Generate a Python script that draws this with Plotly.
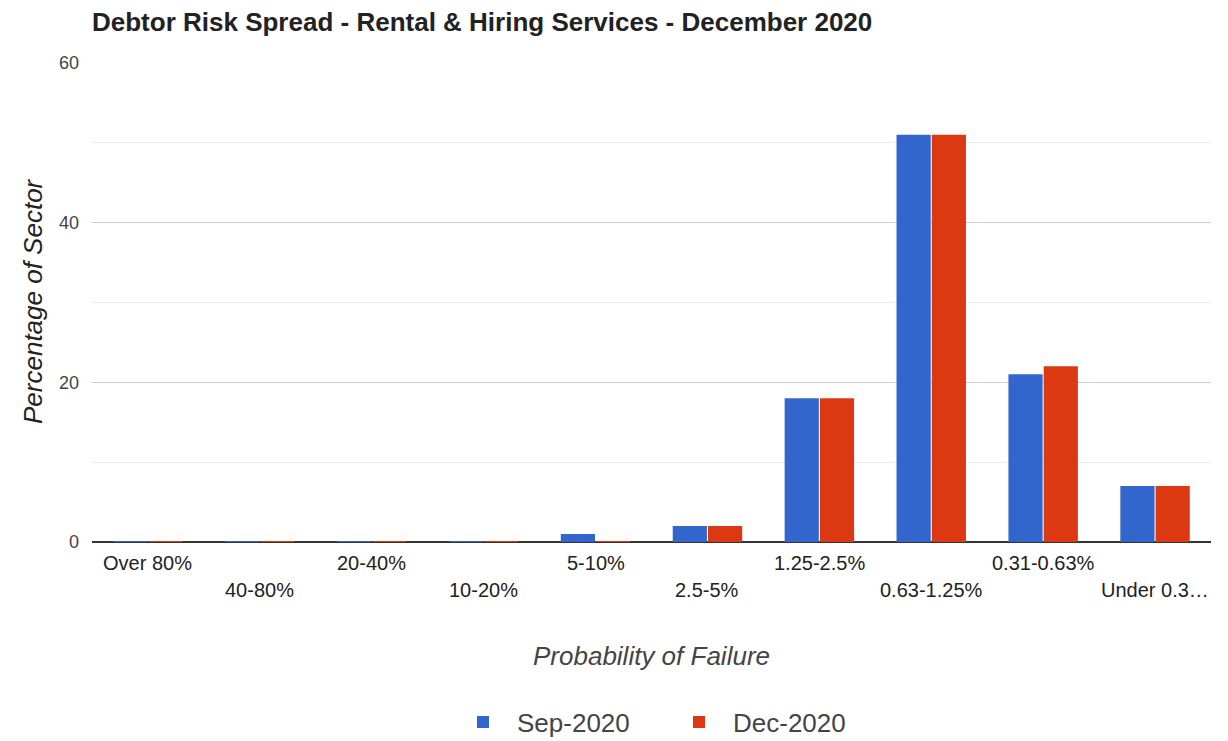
import plotly.graph_objects as go

categories = ["Over 80%", "40-80%", "20-40%", "10-20%", "5-10%", "2.5-5%",
              "1.25-2.5%", "0.63-1.25%", "0.31-0.63%", "Under 0.31%"]
tick_labels = ["Over 80%", "40-80%", "20-40%", "10-20%", "5-10%", "2.5-5%",
               "1.25-2.5%", "0.63-1.25%", "0.31-0.63%", "Under 0.3\u2026"]
sep_2020 = [0.1, 0.1, 0.1, 0.1, 1, 2, 18, 51, 21, 7]
dec_2020 = [0.1, 0.1, 0.1, 0.1, 0.1, 2, 18, 51, 22, 7]

FONT = "Liberation Sans, Arial, sans-serif"

W, H = 1220, 733
L, R, T, B = 84, 17, 55, 199
PW, PH = W - L - R, H - T - B

fig = go.Figure()
fig.add_trace(go.Bar(x=categories, y=sep_2020, name="Sep-2020",
                     marker=dict(color="#3366CC", line=dict(width=0))))
fig.add_trace(go.Bar(x=categories, y=dec_2020, name="Dec-2020",
                     marker=dict(color="#DC3912", line=dict(width=0))))

annotations = []
for i, (cat, lab) in enumerate(zip(categories, tick_labels)):
    annotations.append(dict(
        x=cat, y=0, xref="x", yref="y", text=lab, showarrow=False,
        xanchor="center", yanchor="middle",
        yshift=-21 if i % 2 == 0 else -48,
        font=dict(family=FONT, size=20, color="#222222")))

annotations.append(dict(
    x=0.5, y=-(648 - (T + PH)) / PH, xref="paper", yref="paper",
    text="<i>Probability of Failure</i>",
    showarrow=False, xanchor="center", yanchor="middle",
    font=dict(family=FONT, size=26, color="#444444")))

annotations.append(dict(
    x=(25 - L) / PW, y=1 - (293 - T) / PH, xref="paper", yref="paper",
    text="<i>Percentage of Sector</i>", textangle=-90,
    showarrow=False, xanchor="center", yanchor="middle",
    font=dict(family=FONT, size=26, color="#222222")))

fig.update_layout(
    width=W, height=H,
    margin=dict(l=L, r=R, t=T, b=B, autoexpand=False),
    paper_bgcolor="white", plot_bgcolor="white",
    font=dict(family=FONT, color="#444444"),
    title=dict(text="<b>Debtor Risk Spread - Rental &amp; Hiring Services - December 2020</b>",
               x=L / W, xanchor="left", y=1 - 14 / H, yanchor="middle",
               font=dict(family=FONT, size=26, color="#222222")),
    barmode="group", bargap=0.37, bargroupgap=0.03,
    showlegend=True,
    legend=dict(orientation="h", xref="container", x=(449 - 8) / W, xanchor="left",
                yref="container", y=(H - 714) / H, yanchor="middle",
                font=dict(family=FONT, size=26, color="#444444"),
                itemwidth=58, entrywidth=143, entrywidthmode="pixels"),
    annotations=annotations,
)

fig.update_xaxes(showticklabels=False, showgrid=False, showline=False,
                 ticks="", range=[-0.5, 9.5])
fig.update_yaxes(range=[0, 60], tickvals=[0, 20, 40, 60],
                 showgrid=True, gridcolor="#cccccc", gridwidth=1,
                 minor=dict(dtick=10, showgrid=True, gridcolor="#ebebeb"),
                 zeroline=True, zerolinecolor="#333333", zerolinewidth=1.5,
                 tickfont=dict(family=FONT, size=18, color="#444444"),
                 ticklabelstandoff=12)

fig.write_html("out.html")
